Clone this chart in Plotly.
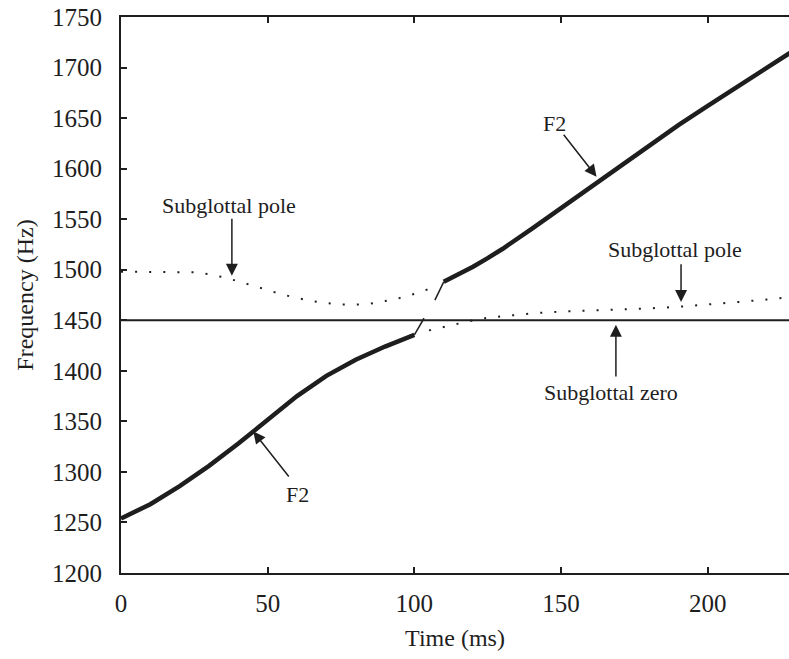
import plotly.graph_objects as go

# ---- data ----
f2_low_t = [0, 10, 20, 30, 40, 50, 60, 70, 80, 90, 100]
f2_low_hz = [1254, 1268, 1286, 1306, 1328, 1352, 1375, 1395, 1411, 1424, 1435.5]

f2_high_t = [110, 115, 120, 125, 130, 140, 150, 160, 170, 180, 190, 200, 210, 220, 228]
f2_high_hz = [1488, 1495, 1503, 1511.5, 1520.5, 1540.5, 1561, 1582, 1603, 1623, 1643, 1662,
              1681, 1699.5, 1714.5]

jump1_t = [100, 103.3]
jump1_hz = [1435.5, 1452]
jump2_t = [107, 110]
jump2_hz = [1470, 1488]

pole_left_t = [0, 10, 20, 25, 30, 35, 40, 45, 50, 55, 60, 65, 70, 75, 80, 85, 90, 95, 100, 106]
pole_left_hz = [1498, 1498, 1498, 1497.5, 1495.5, 1492.5, 1488.5, 1484, 1479.5, 1475.5, 1472,
                1469, 1467, 1465.5, 1465.5, 1466.5, 1469, 1472, 1476, 1482]

pole_right_t = [105, 110, 115, 120, 125, 130, 140, 150, 160, 170, 180, 190, 200, 210, 220, 228]
pole_right_hz = [1440, 1443.5, 1447, 1450, 1452.5, 1454, 1456.8, 1458.6, 1459.5, 1460.5,
                 1461.8, 1463.3, 1465.4, 1468, 1470.5, 1473]

zero_t = [0, 228]
zero_hz = [1450, 1450]

x_ticks = [0, 50, 100, 150, 200]
y_ticks = [1200, 1250, 1300, 1350, 1400, 1450, 1500, 1550, 1600, 1650, 1700, 1750]

# annotations: (label, text_t, text_hz, tail_t, tail_hz, tip_t, tip_hz)
notes = [
    ("Subglottal pole", 36.8, 1564, 37.8, 1552, 37.8, 1494),
    ("F2", 147.6, 1645, 150.5, 1635, 162.1, 1592),
    ("F2", 60.0, 1278, 57.6, 1294, 45.1, 1340),
    ("Subglottal pole", 188.8, 1520, 190.9, 1507, 190.9, 1468),
    ("Subglottal zero", 167.0, 1379, 168.7, 1393, 168.7, 1445.5),
]

INK = "#1e1e1e"
FONT = "Liberation Serif"

fig = go.Figure()
fig.add_trace(go.Scatter(x=zero_t, y=zero_hz, mode="lines",
                         line=dict(color=INK, width=2), showlegend=False))
fig.add_trace(go.Scatter(x=pole_left_t, y=pole_left_hz, mode="lines",
                         line=dict(color=INK, width=2, dash="2px,12.1px"), showlegend=False))
fig.add_trace(go.Scatter(x=pole_right_t, y=pole_right_hz, mode="lines",
                         line=dict(color=INK, width=2, dash="2px,12.1px"), showlegend=False))
for tt, hh in [(jump1_t, jump1_hz), (jump2_t, jump2_hz)]:
    fig.add_trace(go.Scatter(x=tt, y=hh, mode="lines",
                             line=dict(color=INK, width=1.5), showlegend=False))
fig.add_trace(go.Scatter(x=f2_low_t, y=f2_low_hz, mode="lines",
                         line=dict(color=INK, width=4.5), showlegend=False))
fig.add_trace(go.Scatter(x=f2_high_t, y=f2_high_hz, mode="lines",
                         line=dict(color=INK, width=4.5), showlegend=False))

for label, xt, yt, xa, ya, xh, yh in notes:
    fig.add_annotation(x=xt, y=yt, text=label, showarrow=False,
                       font=dict(family=FONT, size=22, color=INK))
    fig.add_annotation(x=xh, y=yh, ax=xa, ay=ya, axref="x", ayref="y", text="",
                       showarrow=True, arrowhead=2, arrowsize=1.6, arrowwidth=1.5,
                       arrowcolor=INK)

axis_common = dict(showgrid=False, zeroline=False, showline=True, linecolor=INK,
                   linewidth=2, ticks="inside", ticklen=6, tickwidth=2, tickcolor=INK,
                   tickfont=dict(family=FONT, size=25, color=INK))

fig.update_xaxes(range=[0, 227.7], tickvals=x_ticks, mirror="ticks",
                 title=dict(text="Time (ms)", font=dict(family=FONT, size=24, color=INK), standoff=13),
                 ticklabelstandoff=7, **axis_common)
fig.update_yaxes(range=[1200, 1750], tickvals=y_ticks, mirror=False,
                 title=dict(text="Frequency (Hz)", font=dict(family=FONT, size=24, color=INK), standoff=12),
                 ticklabelstandoff=12, **axis_common)

fig.update_layout(width=789, height=659, margin=dict(l=121, r=0, t=17, b=86),
                  plot_bgcolor="white", paper_bgcolor="white")

fig.write_html("out.html")
